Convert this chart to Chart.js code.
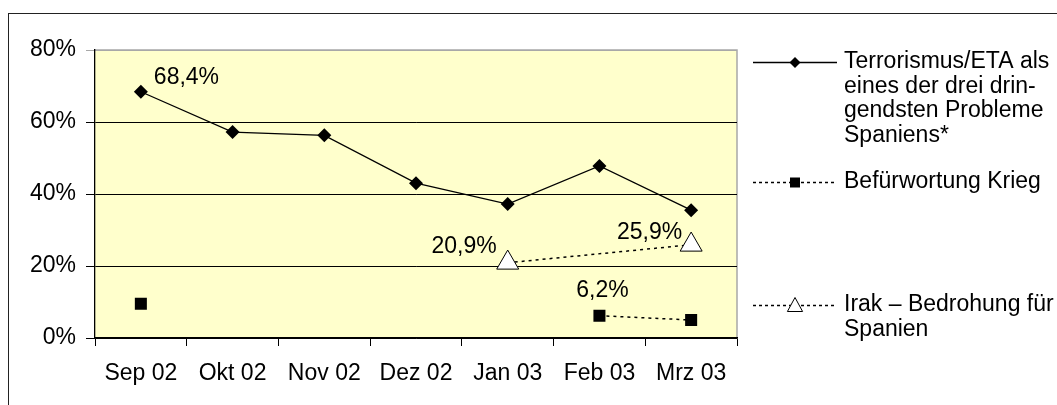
<!DOCTYPE html>
<html>
<head>
<meta charset="utf-8">
<script src="https://cdn.jsdelivr.net/npm/chart.js@4/dist/chart.umd.min.js"></script>
<style>
  html, body { margin: 0; padding: 0; background: #fff; }
  canvas { display: block; }
</style>
</head>
<body>
<canvas id="myChart" width="1057" height="405"></canvas>
<script>
// data
var months = ['Sep 02', 'Okt 02', 'Nov 02', 'Dez 02', 'Jan 03', 'Feb 03', 'Mrz 03'];
var terror = [68.4, 57.2, 56.3, 43.0, 37.2, 47.8, 35.5];
var krieg = [9.5, null, null, null, null, 6.2, 5.0];
var irak = [null, null, null, null, 20.9, null, 25.9];
var yTicks = [0, 20, 40, 60, 80];

var legendTexts = [
    ['Terrorismus/ETA als', 'eines der drei drin-', 'gendsten Probleme', 'Spaniens*'],
    ['Befürwortung Krieg'],
    ['Irak \u2013 Bedrohung für', 'Spanien']
];

// which points get a value label: [dataset, index, dx, dy, align]
var valueLabels = [
    [0, 0, 13, -14, 'left'],
    [2, 4, -11, -16, 'right'],
    [2, 6, -9, -12, 'right'],
    [1, 5, 3, -25, 'center']
];

var FONT = '"Liberation Sans", Arial, sans-serif';

function fmt(v) {
    return v.toFixed(1).replace('.', ',') + '%';
}

const bgPlugin = {
    id: 'bg',
    beforeDraw(chart) {
        const ctx = chart.ctx;
        const a = chart.chartArea;
        ctx.save();
        ctx.fillStyle = '#fff';
        ctx.fillRect(0, 0, chart.width, chart.height);
        ctx.strokeStyle = '#222';
        ctx.lineWidth = 1;
        ctx.strokeRect(8.5, 13.5, 3000, 3000);
        ctx.fillStyle = '#ffffcc';
        ctx.fillRect(a.left, a.top, a.right - a.left, a.bottom - a.top);
        ctx.strokeStyle = '#a8a8a8';
        ctx.lineWidth = 1.5;
        ctx.beginPath();
        ctx.moveTo(a.left, a.top);
        ctx.lineTo(a.right, a.top);
        ctx.lineTo(a.right, a.bottom);
        ctx.stroke();
        ctx.restore();
    }
};

const labelPlugin = {
    id: 'valueLabels',
    afterDatasetsDraw(chart) {
        const ctx = chart.ctx;
        ctx.save();
        ctx.font = '23px ' + FONT;
        ctx.fillStyle = '#000';
        ctx.textBaseline = 'middle';
        valueLabels.forEach(function (l) {
            const pt = chart.getDatasetMeta(l[0]).data[l[1]];
            const v = chart.data.datasets[l[0]].data[l[1]];
            ctx.textAlign = l[4];
            ctx.fillText(fmt(v), pt.x + l[2], pt.y + l[3]);
        });
        ctx.restore();
    }
};

function marker(ctx, type, x, y, r) {
    ctx.beginPath();
    if (type === 'diamond') {
        ctx.moveTo(x, y - r); ctx.lineTo(x + r, y); ctx.lineTo(x, y + r); ctx.lineTo(x - r, y);
        ctx.closePath();
        ctx.fillStyle = '#000'; ctx.fill();
    } else if (type === 'square') {
        ctx.rect(x - r, y - r, 2 * r, 2 * r);
        ctx.fillStyle = '#000'; ctx.fill();
    } else {
        ctx.moveTo(x, y - r); ctx.lineTo(x + r * 0.95, y + r * 0.75); ctx.lineTo(x - r * 0.95, y + r * 0.75);
        ctx.closePath();
        ctx.fillStyle = '#fff'; ctx.fill();
        ctx.strokeStyle = '#000'; ctx.lineWidth = 1; ctx.stroke();
    }
}

const legendPlugin = {
    id: 'sideLegend',
    afterDraw(chart) {
        const ctx = chart.ctx;
        const x0 = 753, x1 = 837, tx = 844;
        const rows = [62, 182, 305];
        const dash = [[], [3, 3], [3, 3]];
        const marks = ['diamond', 'square', 'triangle'];
        const sizes = [5.5, 5, 8];
        ctx.save();
        ctx.font = '23px ' + FONT;
        ctx.textBaseline = 'middle';
        ctx.textAlign = 'left';
        rows.forEach(function (y, i) {
            ctx.strokeStyle = '#000';
            ctx.lineWidth = 1.4;
            ctx.setLineDash(dash[i]);
            ctx.beginPath();
            ctx.moveTo(x0, y + 0.5);
            ctx.lineTo(x1, y + 0.5);
            ctx.stroke();
            ctx.setLineDash([]);
            marker(ctx, marks[i], (x0 + x1) / 2, y + 0.5, sizes[i]);
            ctx.fillStyle = '#000';
            legendTexts[i].forEach(function (t, j) {
                ctx.fillText(t, tx, y + j * 24.5);
            });
        });
        ctx.restore();
    }
};

new Chart(document.getElementById('myChart'), {
    type: 'line',
    data: {
        labels: months,
        datasets: [
            {
                label: legendTexts[0].join(' '),
                data: terror,
                borderColor: '#000',
                borderWidth: 1.3,
                pointStyle: 'rectRot',
                pointRadius: 7,
                pointBackgroundColor: '#000',
                pointBorderColor: '#000',
                pointBorderWidth: 0,
                tension: 0
            },
            {
                label: legendTexts[1].join(' '),
                data: krieg,
                borderColor: '#000',
                borderWidth: 1.5,
                borderDash: [3, 4],
                pointStyle: 'rect',
                pointRadius: 8.5,
                pointBackgroundColor: '#000',
                pointBorderColor: '#000',
                pointBorderWidth: 0,
                spanGaps: false
            },
            {
                label: legendTexts[2].join(' '),
                data: irak,
                borderColor: '#000',
                borderWidth: 1.5,
                borderDash: [3, 4],
                pointStyle: 'triangle',
                pointRadius: 12.7,
                pointBackgroundColor: '#fff',
                pointBorderColor: '#000',
                pointBorderWidth: 1,
                spanGaps: true
            }
        ]
    },
    options: {
        responsive: false,
        animation: false,
        layout: { padding: { top: 50, right: 320, left: 0, bottom: 0 } },
        plugins: {
            legend: { display: false },
            tooltip: { enabled: false }
        },
        scales: {
            x: {
                offset: true,
                afterFit(s) { s.height = 67; },
                grid: {
                    offset: true,
                    drawOnChartArea: false,
                    drawTicks: true,
                    tickLength: 8,
                    color: '#000'
                },
                border: { display: true, color: '#000', width: 1.3 },
                ticks: {
                    color: '#000',
                    font: { family: FONT, size: 23 },
                    padding: 14,
                    maxRotation: 0,
                    autoSkip: false
                }
            },
            y: {
                min: 0,
                max: 80,
                afterFit(s) { s.width = 95; },
                afterBuildTicks(s) { s.ticks = yTicks.map(function (v) { return { value: v }; }); },
                grid: {
                    color: function (c) { return c.tick && c.tick.value === 80 ? '#a8a8a8' : '#000'; },
                    lineWidth: 1,
                    drawTicks: true,
                    tickLength: 9
                },
                border: { display: true, color: '#000', width: 1.3 },
                ticks: {
                    color: '#000',
                    font: { family: FONT, size: 23 },
                    padding: 10,
                    callback: function (v) { return v + '%'; }
                }
            }
        }
    },
    plugins: [bgPlugin, labelPlugin, legendPlugin]
});
</script>
</body>
</html>
